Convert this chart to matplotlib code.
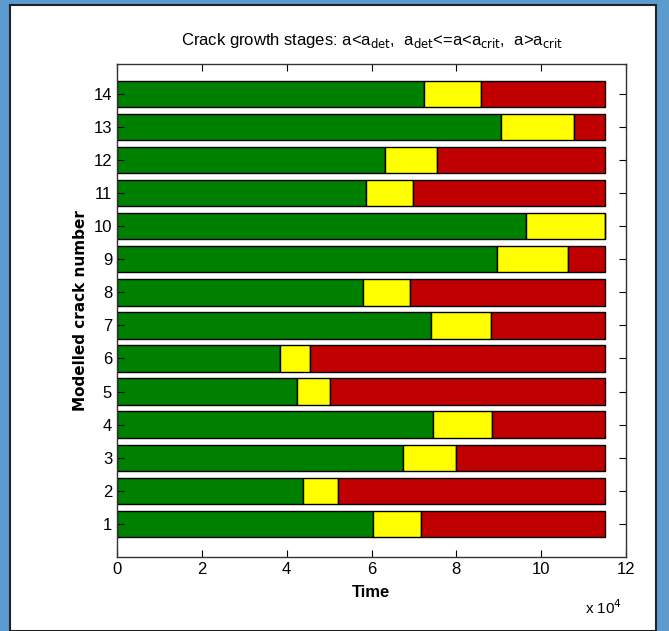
import numpy as np
import matplotlib.pyplot as plt
from matplotlib.patches import Rectangle
from matplotlib.ticker import FuncFormatter

# crack number -> time at which a reaches a_det, a_crit; end of simulation
cracks = np.arange(1, 15)
t_det = [60400, 43800, 67400, 74500, 42400, 38500, 74000, 58100, 89600, 96500,
         58600, 63300, 90600, 72400]
t_crit = [71600, 52000, 79900, 88500, 50300, 45600, 88100, 69100, 106300, 115000,
          69700, 75400, 107800, 85900]
t_end = 115000

green = '#008000'
yellow = '#ffff00'
red = '#c00000'

plt.rcParams['font.family'] = ['Liberation Sans Narrow', 'Liberation Sans', 'DejaVu Sans']
plt.rcParams['mathtext.fontset'] = 'custom'
plt.rcParams['mathtext.rm'] = 'Liberation Sans Narrow'
plt.rcParams['mathtext.it'] = 'Liberation Sans Narrow'

fig = plt.figure(figsize=(6.69, 6.31), dpi=100)
fig.patch.set_facecolor('#5b9bd0')
panel = Rectangle((10 / 669, 0), 646 / 669, 626 / 631, transform=fig.transFigure,
                  facecolor='white', edgecolor='#222222', linewidth=1.5, zorder=-10)
fig.add_artist(panel)

ax = fig.add_axes([117 / 669, 1 - 557 / 631, 509 / 669, 493 / 631])
ax.set_zorder(5)

det = np.array(t_det)
crit = np.array(t_crit)
h = 0.8
ax.barh(cracks, det, height=h, color=green, edgecolor='black', linewidth=1.0)
ax.barh(cracks, crit - det, left=det, height=h, color=yellow, edgecolor='black', linewidth=1.0)
ax.barh(cracks, t_end - crit, left=crit, height=h, color=red, edgecolor='black', linewidth=1.0)

ax.set_xlim(0, 120000)
ax.set_ylim(0, 14.9)
ax.set_xticks(np.arange(0, 120001, 20000))
ax.xaxis.set_major_formatter(FuncFormatter(lambda v, p: '%g' % (v / 1e4)))
ax.set_yticks(cracks)
ax.tick_params(direction='in', top=True, right=True, labelsize=12, length=5, width=0.8)
for s in ax.spines.values():
    s.set_linewidth(1.0)
    s.set_color('#333333')

ax.set_xlabel('Time', fontsize=12, fontweight='bold', labelpad=6)
ax.set_ylabel('Modelled crack number', fontsize=11, fontweight='bold',
              family='DejaVu Sans', labelpad=4)
ax.set_title(r'Crack growth stages: a<a$_{\rm det}$,  a$_{\rm det}$<=a<a$_{\rm crit}$,  a>a$_{\rm crit}$',
             fontsize=12, pad=14)
fig.text(604 / 669, 1 - 608 / 631, r'x 10$^4$', fontsize=11, ha='center', va='center')

fig.savefig('out.png', dpi=100, facecolor=fig.get_facecolor())
